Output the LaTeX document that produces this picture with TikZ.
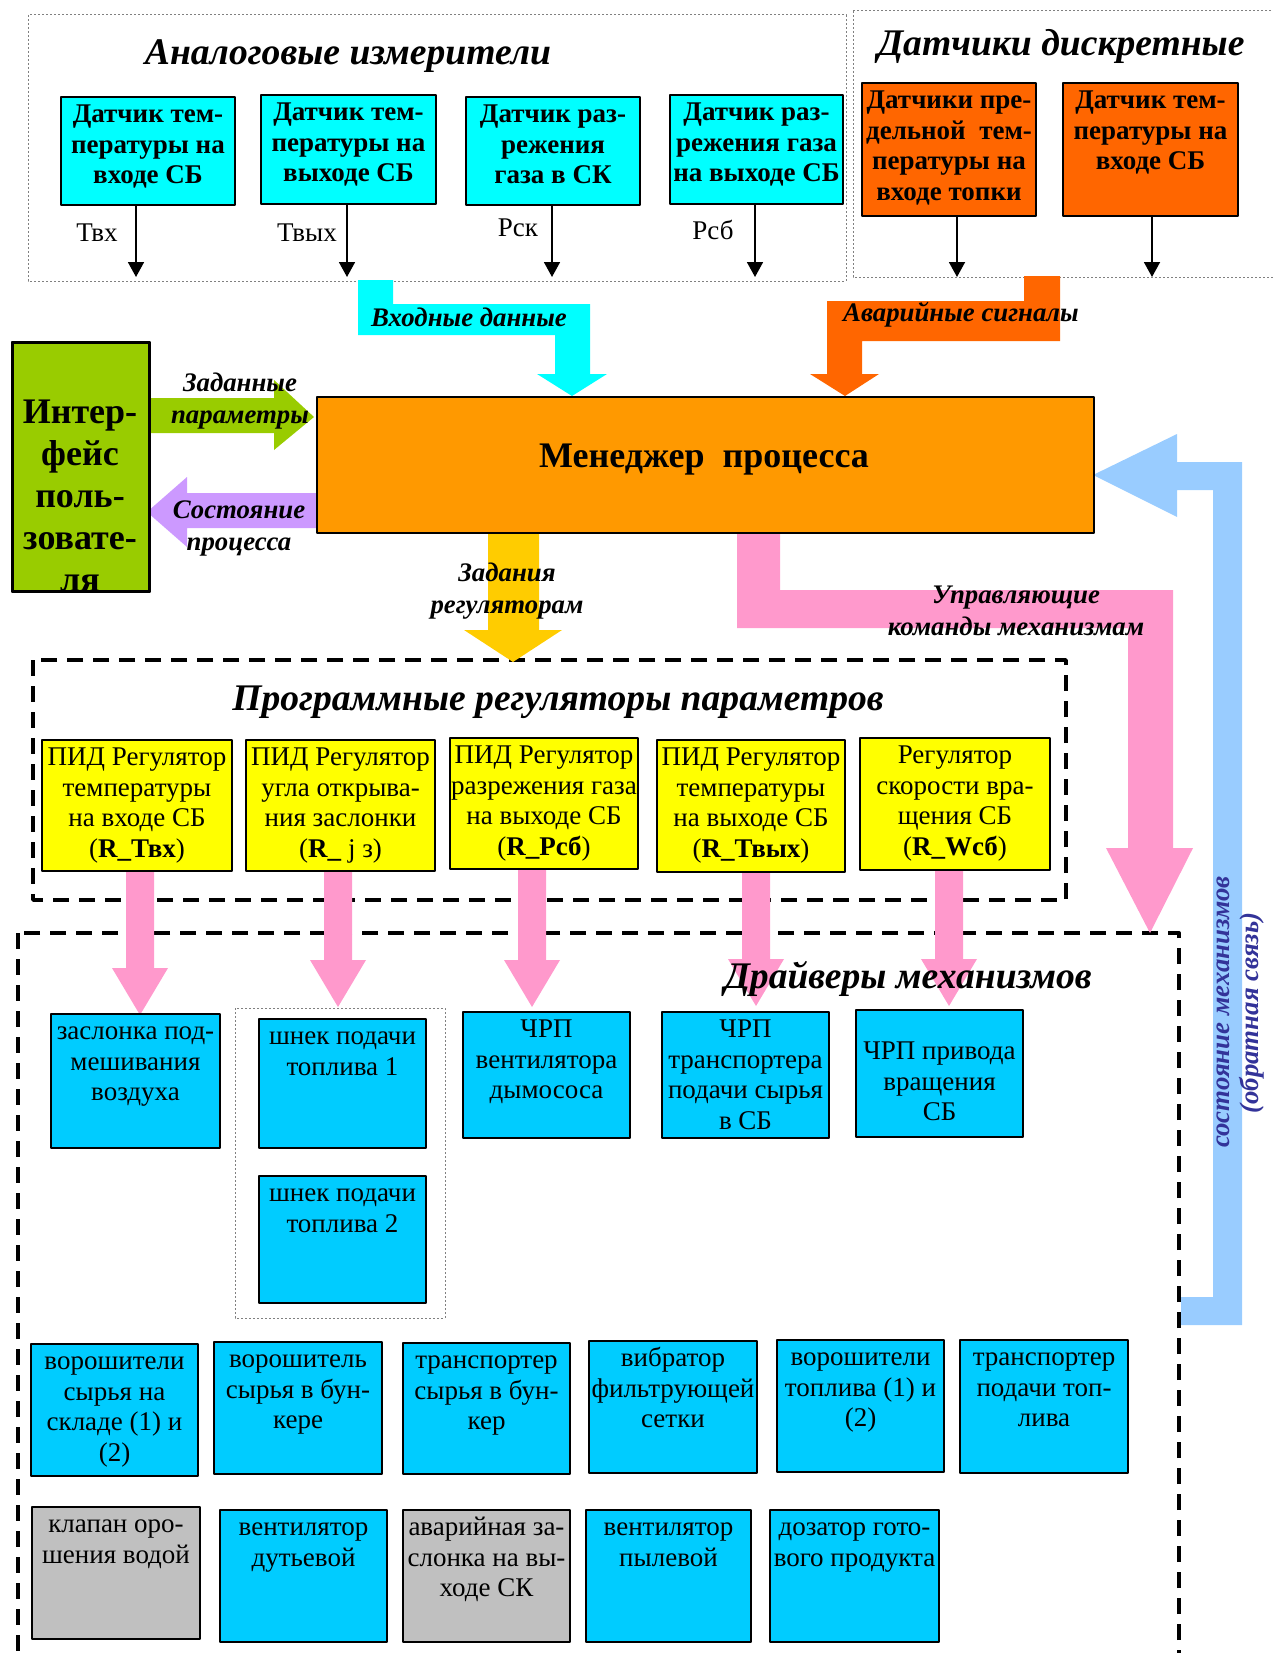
\documentclass[tikz,border=0pt]{standalone}
\usepackage{fontspec}
\setmainfont{Liberation Serif}
\usepackage{tikz}
\usetikzlibrary{arrows,arrows.meta}

\definecolor{sensorcyan}{HTML}{00FFFF}
\definecolor{alarmorange}{HTML}{FF6600}
\definecolor{mgrorange}{HTML}{FF9900}
\definecolor{uigreen}{HTML}{99CC00}
\definecolor{statpurple}{HTML}{CC99FF}
\definecolor{taskgold}{HTML}{FFCC00}
\definecolor{cmdpink}{HTML}{FF99CC}
\definecolor{fbblue}{HTML}{99CCFF}
\definecolor{regyellow}{HTML}{FFFF00}
\definecolor{drvblue}{HTML}{00CCFF}
\definecolor{drvgray}{HTML}{C0C0C0}
\definecolor{fbtext}{HTML}{333399}

\newcommand{\fsz}[2]{\fontsize{#1}{#2}\selectfont}
% box by corners (pixels), text hung from the top edge
\newcommand{\unitbox}[8][-2.3pt]{%
  \node[#2,anchor=north west,minimum width={(#6-#4)*0.5pt},minimum height={(#7-#5)*0.5pt}] (#3) at (#4,#5) {};
  \node[#2 text,anchor=north] (#3-t) at ([yshift=#1]#3.north) {\strut#8};}

\begin{document}
\begin{tikzpicture}[x=0.5pt,y=-0.5pt,line join=round,>={Triangle[width=8pt,length=7.5pt]},
  box/.style={draw=black,line width=1pt,inner sep=0pt},
  sensor/.style={box,fill=sensorcyan},
  alarm/.style={box,fill=alarmorange},
  reg/.style={box,fill=regyellow},
  drv/.style={box,fill=drvblue},
  drvoff/.style={box,fill=drvgray},
  plain txt/.style={align=center,inner sep=0pt,font=\fsz{13.5}{15.3}},
  bold txt/.style={plain txt,font=\bfseries\fsz{13.5}{15.3}},
  sensor text/.style={bold txt},
  alarm text/.style={bold txt},
  reg text/.style={plain txt},
  drv text/.style={plain txt},
  drvoff text/.style={plain txt},
  title/.style={font=\bfseries\itshape\fsz{18.8}{22},inner sep=0pt},
  flow/.style={font=\bfseries\itshape\fsz{13.4}{16},align=center,inner sep=0pt},
  sig/.style={font=\fsz{13.5}{15},inner sep=0pt},
  dashbox/.style={line width=1.7pt,dash pattern=on 8pt off 5pt},
  dotbox/.style={draw=gray,line width=0.5pt,dash pattern=on 1pt off 1pt}]

\useasboundingbox (0,0) rectangle (1273,1653);
\clip (0,0) rectangle (1273,1653);

% group frames
\draw[dotbox] (28,15) rectangle (846,281);
\draw[dotbox] (853,11) rectangle (1290,277);
\draw[dashbox] (33,660) rectangle (1066,900);
\draw[dashbox] (18,933) rectangle (1179,1720);
\draw[dotbox] (235,1008) rectangle (445,1318);

% titles
\node[title] (tan) at (348,56) {Аналоговые измерители};
\node[title] (tdi) at (1061,46) {Датчики дискретные};
\node[title] (treg) at (558,702) {Программные регуляторы параметров};

% analog sensors
\unitbox{sensor}{s1}{60}{96}{234}{204}{Датчик тем-\\пературы на\\входе СБ}
\unitbox{sensor}{s2}{260}{94}{435}{203}{Датчик тем-\\пературы на\\выходе СБ}
\unitbox{sensor}{s3}{465}{96}{639}{204}{Датчик раз-\\режения\\газа в СК}
\unitbox{sensor}{s4}{669}{94}{842}{203}{Датчик раз-\\режения газа\\на выходе СБ}
% discrete sensors
\unitbox{alarm}{a1}{861}{82}{1035}{215}{Датчики пре-\\дельной\ \ тем-\\пературы на\\входе топки}
\unitbox{alarm}{a2}{1062}{82}{1237}{215}{Датчик тем-\\пературы на\\входе СБ}

\foreach \s/\x in {s1/136,s2/347,s3/552,s4/755,a1/957,a2/1152}{
  \coordinate (\s-in) at (\x,277);
  \draw[->,line width=0.9pt] (\s.south -| \s-in) -- (\s-in);
}
\node[sig] (ltin) at (97,233) {Твх};
\node[sig] (ltout) at (307,233) {Твых};
\node[sig] (lpsk) at (518,228) {Рск};
\node[sig] (lpsb) at (713,230) {Рсб};

% wide flow arrows
\fill[sensorcyan] (358,280) -- (393,280) -- (393,304) -- (590,304) -- (590,374) -- (607,374)
  -- (572,396) -- (537,374) -- (555,374) -- (555,335) -- (358,335) -- cycle;
\fill[alarmorange] (1024,276) -- (1060,276) -- (1060,341) -- (862,341) -- (862,374) -- (879,374)
  -- (845,396) -- (810,374) -- (827,374) -- (827,301) -- (1024,301) -- cycle;
\fill[uigreen] (147,398) -- (274,398) -- (274,380) -- (314,417) -- (274,450) -- (274,433) -- (147,433) -- cycle;
\fill[statpurple] (316,493) -- (187,493) -- (187,477) -- (147,512) -- (187,547) -- (187,528) -- (316,528) -- cycle;
\fill[taskgold] (488,532) -- (539,532) -- (539,630) -- (562,630) -- (513,662) -- (464,630) -- (488,630) -- cycle;
\fill[cmdpink] (737,532) -- (780,532) -- (780,590) -- (1173,590) -- (1173,848) -- (1193,848)
  -- (1150,933) -- (1106,848) -- (1128,848) -- (1128,628) -- (737,628) -- cycle;
\fill[fbblue] (1093,475) -- (1177,434) -- (1177,462) -- (1242,462) -- (1242,1325) -- (1181,1325)
  -- (1181,1297) -- (1213,1297) -- (1213,490) -- (1177,490) -- (1177,517) -- cycle;
\foreach \x/\t in {140/1015,338/1007,532/1007,756/1006,949/1006}
  \fill[cmdpink] (\x-14,870) -- (\x+14,870) -- (\x+14,\t-47) -- (\x+28,\t-47) -- (\x,\t)
    -- (\x-28,\t-47) -- (\x-14,\t-47) -- cycle;

\node[flow] (fin) at (469,317) {Входные данные};
\node[flow] (falm) at (961,315) {Аварийные сигналы};
\node[flow] (fset) at (240,401) {Заданные\\параметры};
\node[flow] (fstat) at (239,528) {Состояние\\процесса};
\node[flow] (ftask) at (507,591) {Задания\\регуляторам};
\node[flow] (fcmd) at (1016,611) {Управляющие\\команды механизмам};
\node[flow,text=fbtext,rotate=90] (ffb1) at (1223,1012) {состояние механизмов};
\node[flow,text=fbtext,rotate=90] (ffb2) at (1252,1013) {(обратная связь)};

% process manager and user interface
\node[box,fill=mgrorange,anchor=north west,minimum width=388.5pt,minimum height=68pt] (mgr) at (316,396) {};
\node[font=\bfseries\fsz{18}{21},inner sep=0pt] (mgr-t) at (704,460) {Менеджер\ \ процесса};
\node[box,fill=uigreen,anchor=north west,minimum width=68pt,minimum height=124pt] (ui) at (12,342) {};
\begin{scope}
  \clip (12,342) rectangle (148,590);
  \node[align=center,inner sep=0pt,anchor=north,font=\bfseries\fsz{18}{21}] (ui-t) at (80,394)
    {\strut Интер-\\фейс\\поль-\\зовате-\\ля};
\end{scope}
\draw[line width=1pt] (ui.north west) rectangle (ui.south east);

% regulators
\unitbox{reg}{r1}{41}{739}{231}{870}{ПИД Регулятор\\температуры\\на входе СБ\\(\textbf{R\_Твх})}
\unitbox{reg}{r2}{245}{739}{434}{870}{ПИД Регулятор\\угла открыва-\\ния заслонки\\(\textbf{R\_}\ j з)}
\unitbox{reg}{r3}{449}{737}{637}{868}{ПИД Регулятор\\разрежения газа\\на выходе СБ\\(\textbf{R\_Рсб})}
\unitbox{reg}{r4}{656}{739}{844}{871}{ПИД Регулятор\\температуры\\на выходе СБ\\(\textbf{R\_Твых})}
\unitbox{reg}{r5}{859}{737}{1049}{869}{Регулятор\\скорости вра-\\щения СБ\\(\textbf{R\_Wсб})}

% drivers
\unitbox{drv}{d1}{50}{1013}{219}{1147}{заслонка под-\\мешивания\\воздуха}
\unitbox{drv}{d2}{258}{1018}{425}{1147}{шнек подачи\\топлива 1}
\unitbox{drv}{d3}{258}{1175}{425}{1302}{шнек подачи\\топлива 2}
\unitbox{drv}{d4}{462}{1011}{629}{1137}{ЧРП\\вентилятора\\дымососа}
\unitbox{drv}{d5}{661}{1011}{828}{1137}{ЧРП\\транспортера\\подачи сырья\\в СБ}
\unitbox[-14.3pt]{drv}{d6}{855}{1009}{1022}{1136}{ЧРП привода\\вращения\\СБ}
\unitbox{drv}{e1}{30}{1343}{197}{1475}{ворошители\\сырья на\\складе (1) и\\(2)}
\unitbox{drv}{e2}{213}{1341}{381}{1473}{ворошитель\\сырья в бун-\\кере}
\unitbox{drv}{e3}{402}{1342}{569}{1473}{транспортер\\сырья в бун-\\кер}
\unitbox{drv}{e4}{588}{1340}{756}{1472}{вибратор\\фильтрующей\\сетки}
\unitbox{drv}{e5}{776}{1339}{943}{1471}{ворошители\\топлива (1) и\\(2)}
\unitbox{drv}{e6}{959}{1339}{1127}{1472}{транспортер\\подачи топ-\\лива}
\unitbox{drvoff}{f1}{31}{1506}{199}{1638}{клапан оро-\\шения водой}
\unitbox{drv}{f2}{219}{1509}{386}{1641}{вентилятор\\дутьевой}
\unitbox{drvoff}{f3}{402}{1509}{569}{1641}{аварийная за-\\слонка на вы-\\ходе СК}
\unitbox{drv}{f4}{585}{1509}{750}{1641}{вентилятор\\пылевой}
\unitbox{drv}{f5}{769}{1509}{938}{1641}{дозатор гото-\\вого продукта}

\node[title] (tdrv) at (908,979) {Драйверы механизмов};
\end{tikzpicture}
\end{document}
